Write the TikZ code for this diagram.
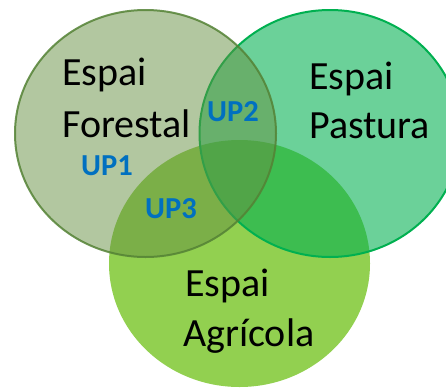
\documentclass[tikz,border=0pt]{standalone}
\usepackage{fontspec}
\setmainfont{Carlito}
\definecolor{forestc}{RGB}{101,143,65}
\definecolor{forestline}{RGB}{84,130,53}
\definecolor{pastc}{RGB}{0,176,80}
\definecolor{agric}{RGB}{146,208,80}
\definecolor{upblue}{RGB}{0,112,192}
\begin{document}
\begin{tikzpicture}[x=1pt,y=-1pt,
  region/.style={x radius=130.5, y radius=123.5},
  bigtxt/.style={anchor=base west, inner sep=0pt, font=\fontsize{40}{48}\selectfont, text=black},
  uptxt/.style={anchor=base, inner sep=0pt, font=\fontsize{30.5}{36}\selectfont\bfseries, text=upblue}]
\useasboundingbox (0,0) rectangle (446,388);
\begin{scope}
\clip (0,0) rectangle (446,388);
\fill[agric] (239.5,263.5) ellipse [region];
\draw[pastc, line width=2pt, fill=pastc, fill opacity=0.58] (330,133.5) ellipse [region];
\draw[forestline, line width=2pt, draw opacity=0.85, fill=forestc, fill opacity=0.5] (145.5,133.5) ellipse [region];
\end{scope}
\node[bigtxt] (f1) at (62,85) {Espai};
\node[bigtxt] (f2) at (62,137) {Forestal};
\node[bigtxt] (p1) at (309,89) {Espai};
\node[bigtxt] (p2) at (309,138) {Pastura};
\node[bigtxt] (a1) at (185,296) {Espai};
\node[bigtxt] (a2) at (183,346) {Agrícola};
\node[uptxt] (u1) at (107,175) {UP1};
\node[uptxt] (u2) at (233,121) {UP2};
\node[uptxt] (u3) at (171,218) {UP3};
\end{tikzpicture}
\end{document}
